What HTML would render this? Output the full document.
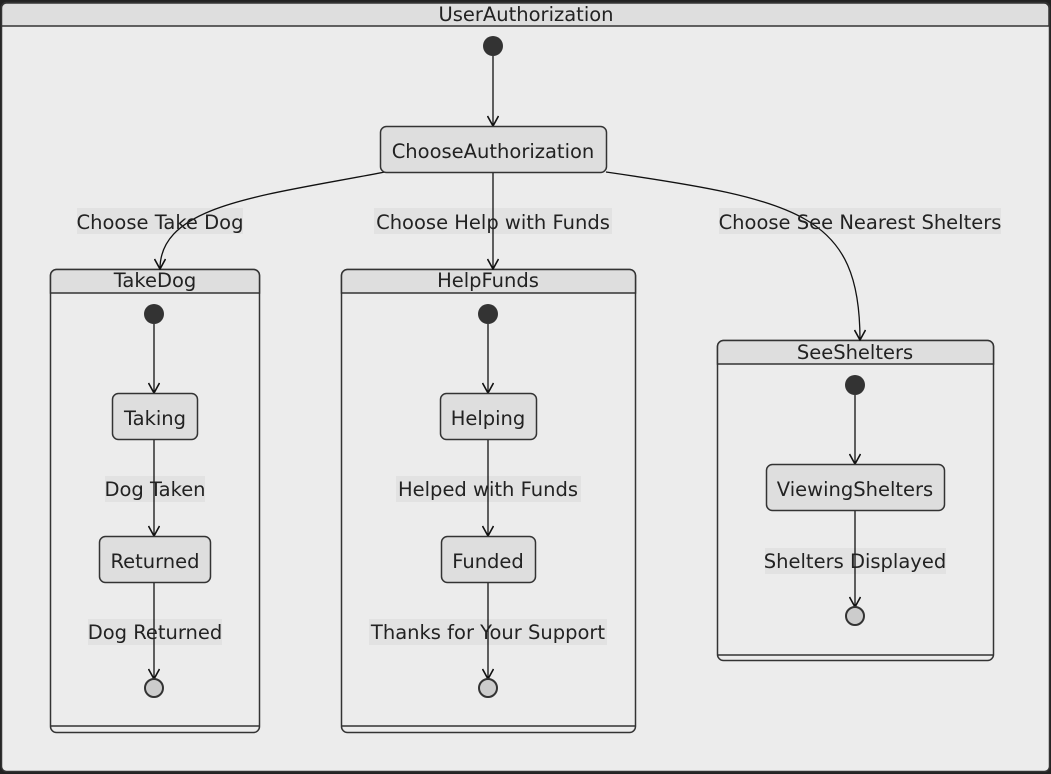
<!DOCTYPE html>
<html><head><meta charset="utf-8"><style>
html,body{margin:0;padding:0;background:#ececec;}
svg{display:block;font-family:"DejaVu Sans","Liberation Sans",sans-serif;}
text{fill:#222;font-size:19.5px;}
</style></head><body>
<svg width="1051" height="774" viewBox="0 0 1051 774">
<defs>
<marker id="a" viewBox="0 0 12 12" refX="11" refY="6" markerWidth="12" markerHeight="12" markerUnits="userSpaceOnUse" orient="auto">
<path d="M1,0.5 L11,6 L1,11.5" fill="none" stroke="#111" stroke-width="1.6"/>
</marker>
</defs>
<rect x="0" y="0" width="1051" height="774" fill="#222"/>
<rect x="1.5" y="2.5" width="1048" height="769" rx="5" fill="#ececec" stroke="#333" stroke-width="1.5"/>
<path d="M1.5,26 V8 a5,5 0 0 1 5,-5 H1044 a5,5 0 0 1 5,5 V26 Z" fill="#dedede" stroke="#333" stroke-width="1.5"/>
<text x="526" y="21" text-anchor="middle">UserAuthorization</text>

<g stroke="#333" stroke-width="1.5">
<rect x="50.5" y="269.5" width="209" height="463" rx="6" fill="#ececec"/>
<path d="M50.5,293 V275.5 a6,6 0 0 1 6,-6 H253.5 a6,6 0 0 1 6,6 V293 Z" fill="#dedede"/>
<line x1="50.5" y1="726" x2="259.5" y2="726"/>
<rect x="341.5" y="269.5" width="294" height="463" rx="6" fill="#ececec"/>
<path d="M341.5,293 V275.5 a6,6 0 0 1 6,-6 H629.5 a6,6 0 0 1 6,6 V293 Z" fill="#dedede"/>
<line x1="341.5" y1="726" x2="635.5" y2="726"/>
<rect x="717.5" y="340.5" width="276" height="320" rx="6" fill="#ececec"/>
<path d="M717.5,364 V346.5 a6,6 0 0 1 6,-6 H987.5 a6,6 0 0 1 6,6 V364 Z" fill="#dedede"/>
<line x1="717.5" y1="655" x2="993.5" y2="655"/>
</g>
<text x="155" y="287" text-anchor="middle">TakeDog</text>
<text x="488" y="287" text-anchor="middle">HelpFunds</text>
<text x="855" y="359" text-anchor="middle">SeeShelters</text>

<g fill="#e2e2e2">
<rect x="77" y="208" width="166" height="26"/>
<rect x="374" y="208" width="238" height="26"/>
<rect x="719" y="208" width="282" height="26"/>
<rect x="105" y="476" width="100" height="26"/>
<rect x="88" y="619" width="134" height="26"/>
<rect x="396" y="476" width="185" height="26"/>
<rect x="369" y="619" width="238" height="26"/>
<rect x="765" y="548" width="181" height="26"/>
</g>

<g fill="none" stroke="#111" stroke-width="1.3" marker-end="url(#a)">
<path d="M493,56 V126"/>
<path d="M385,172 C260,196 160,205 160,269"/>
<path d="M493,172 V269"/>
<path d="M606,172 C800,200 860,215 860,340"/>
<path d="M154,324 V393"/>
<path d="M154,439 V536"/>
<path d="M154,582 V679"/>
<path d="M488,324 V393"/>
<path d="M488,439 V536"/>
<path d="M488,582 V679"/>
<path d="M855,395 V464"/>
<path d="M855,511 V607"/>
</g>

<g fill="#dedede" stroke="#333" stroke-width="1.5">
<rect x="380.5" y="126.5" width="226" height="46" rx="6"/>
<rect x="112.5" y="393.5" width="85" height="46" rx="6"/>
<rect x="99.5" y="536.5" width="111" height="46" rx="6"/>
<rect x="440.5" y="393.5" width="96" height="46" rx="6"/>
<rect x="441.5" y="536.5" width="94" height="46" rx="6"/>
<rect x="766.5" y="464.5" width="178" height="46" rx="6"/>
</g>
<g text-anchor="middle">
<text x="493" y="158">ChooseAuthorization</text>
<text x="155" y="425">Taking</text>
<text x="155" y="568">Returned</text>
<text x="488" y="425">Helping</text>
<text x="488" y="568">Funded</text>
<text x="855" y="496">ViewingShelters</text>
<text x="160" y="229">Choose Take Dog</text>
<text x="493" y="229">Choose Help with Funds</text>
<text x="860" y="229">Choose See Nearest Shelters</text>
<text x="155" y="496">Dog Taken</text>
<text x="155" y="639">Dog Returned</text>
<text x="488" y="496">Helped with Funds</text>
<text x="488" y="639">Thanks for Your Support</text>
<text x="855" y="568">Shelters Displayed</text>
</g>

<g fill="#333">
<circle cx="493" cy="46" r="10"/>
<circle cx="154" cy="314" r="10"/>
<circle cx="488" cy="314" r="10"/>
<circle cx="855" cy="385" r="10"/>
</g>
<g fill="#ccc" stroke="#333" stroke-width="2">
<circle cx="154" cy="688" r="9"/>
<circle cx="488" cy="688" r="9"/>
<circle cx="855" cy="616" r="9"/>
</g>
</svg>
</body></html>
